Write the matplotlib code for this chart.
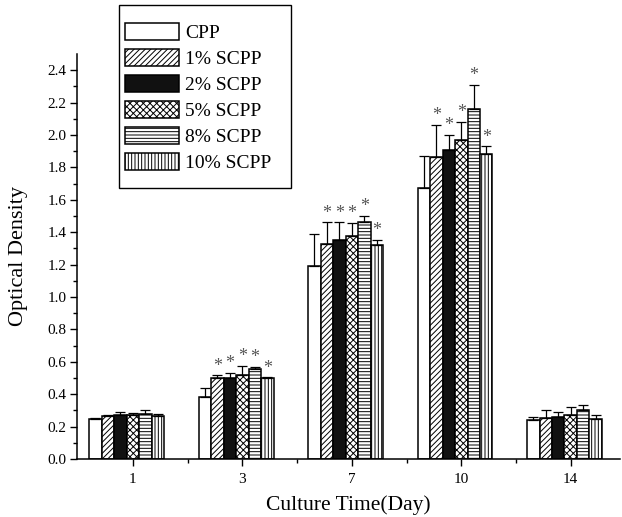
import numpy as np
import matplotlib.pyplot as plt
from matplotlib.ticker import FixedLocator
from matplotlib.patches import Rectangle

plt.rcParams['font.family'] = ['Liberation Serif', 'DejaVu Serif']
plt.rcParams['hatch.linewidth'] = 0.7

days = ['1', '3', '7', '10', '14']
groups = ['CPP', '1% SCPP', '2% SCPP', '5% SCPP', '8% SCPP', '10% SCPP']

cpp = [0.25, 0.38, 1.19, 1.67, 0.24]
scpp1 = [0.267, 0.498, 1.325, 1.866, 0.251]
scpp2 = [0.272, 0.502, 1.35, 1.905, 0.259]
scpp5 = [0.272, 0.516, 1.377, 1.967, 0.27]
scpp8 = [0.276, 0.553, 1.46, 2.16, 0.30]
scpp10 = [0.267, 0.498, 1.32, 1.88, 0.245]

cpp_err = [0.005, 0.06, 0.20, 0.20, 0.022]
scpp1_err = [0.006, 0.018, 0.135, 0.194, 0.049]
scpp2_err = [0.016, 0.027, 0.11, 0.095, 0.033]
scpp5_err = [0.014, 0.058, 0.078, 0.113, 0.051]
scpp8_err = [0.024, 0.013, 0.04, 0.15, 0.031]
scpp10_err = [0.008, 0.006, 0.03, 0.05, 0.028]

# significance marks per day (all SCPP groups on days 3, 7, 10)
signif = [False, True, True, True, False]

values = [cpp, scpp1, scpp2, scpp5, scpp8, scpp10]
errors = [cpp_err, scpp1_err, scpp2_err, scpp5_err, scpp8_err, scpp10_err]
hatches = ['', '//////', '', 'xxxxx', '-----', '|||||']
fills = ['white', 'white', '#111111', 'white', 'white', 'white']

W, H = 622, 517
fig = plt.figure(figsize=(W / 100, H / 100), dpi=100)
ax = fig.add_axes([77 / W, 1 - 459 / H, 543 / W, (459 - 54) / H])

x = np.arange(len(days))
w = 0.114

for i, (vals, errs) in enumerate(zip(values, errors)):
    pos = x + (i - 3) * w
    ax.bar(pos, vals, width=w, color=fills[i], edgecolor='black',
           hatch=hatches[i], linewidth=1.1, label=groups[i], zorder=2)
    ax.errorbar(pos, vals, yerr=[np.zeros(len(vals)), errs], fmt='none',
                ecolor='black', elinewidth=0.9, capsize=3.5, capthick=0.9,
                zorder=3)
    if i > 0:
        for j in range(len(days)):
            if signif[j]:
                ax.text(pos[j], vals[j] + errs[j] + 0.005, '*', ha='center',
                        va='bottom', fontsize=13, color='#555555')

ax.set_xlim(-0.51, 4.45)
ax.set_ylim(0, 2.5)
ax.set_xticks(x)
ax.set_xticklabels(days)
ax.xaxis.set_minor_locator(FixedLocator(x[:-1] + 0.5))
ax.yaxis.set_major_locator(FixedLocator(np.arange(0, 2.41, 0.2)))
ax.yaxis.set_major_formatter(plt.FuncFormatter(lambda v, p: f'{v:.1f}'))
ax.yaxis.set_minor_locator(FixedLocator(np.arange(0.1, 2.5, 0.2)))
ax.tick_params(axis='both', which='major', direction='out', length=5,
               width=1, labelsize=11)
ax.tick_params(axis='y', which='major', pad=2.5)
ax.tick_params(axis='x', which='major', pad=5)
ax.tick_params(axis='both', which='minor', direction='out', length=3, width=1)

ax.spines['top'].set_visible(False)
ax.spines['right'].set_visible(False)
ax.spines['left'].set_linewidth(1.1)
ax.spines['bottom'].set_linewidth(1.1)

ax.set_xlabel('Culture Time(Day)', fontsize=15.5, labelpad=7)
ax.set_ylabel('Optical Density', fontsize=16, labelpad=14)

# legend frame drawn separately so the padding can be uneven like the original
fig.patches.append(Rectangle((119 / W, 1 - 188 / H), 172 / W, 183 / H,
                             transform=fig.transFigure, fill=False,
                             edgecolor='black', linewidth=1.0))
fig.legend(loc='upper left', bbox_to_anchor=(125 / W, 1 - 23 / H),
           fontsize=14, frameon=False, handlelength=2.8, handleheight=1.0,
           handletextpad=0.3, labelspacing=0.34, borderpad=0,
           borderaxespad=0)

plt.savefig('out.png', dpi=100)
